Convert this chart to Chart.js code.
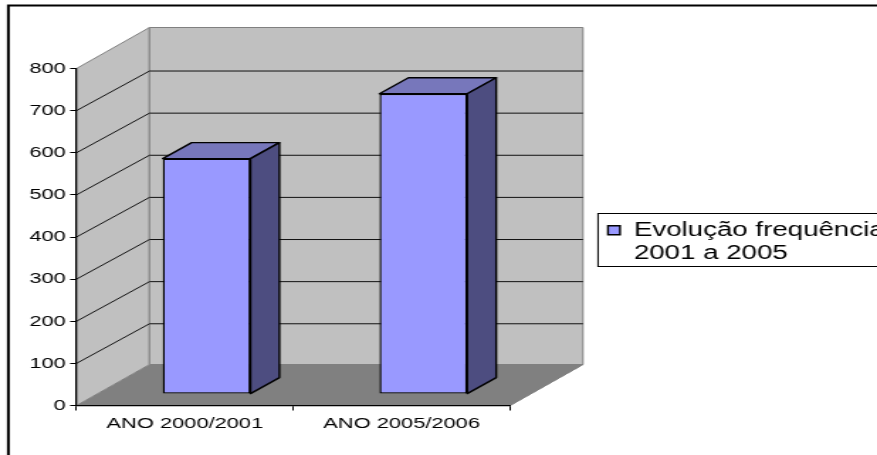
<!DOCTYPE html>
<html>
<head>
<meta charset="utf-8">
<script src="https://cdn.jsdelivr.net/npm/chart.js@4"></script>
<style>
  html,body{margin:0;padding:0;background:#fff;overflow:hidden;width:877px;height:455px}
  /* the original is stretched sideways, so the whole canvas is too */
  #wrap{width:618px;height:455px;transform-origin:0 0;transform:scaleX(1.4191)}
</style>
</head>
<body>
<div id="wrap"><canvas id="c" width="618" height="455"></canvas></div>
<script>
const categories = ['ANO 2000/2001','ANO 2005/2006'];
const values = [559, 713];
const legendLines = ['Evolução frequência','2001 a 2005'];
const yMin = 0, yMax = 800, yStep = 100;

const FONT = 'Liberation Sans, Arial, sans-serif';
const WALL = '#c0c0c0', FLOOR = '#808080', EDGE = '#808080';
const BAR = '#9999ff', BAR_TOP = '#7777bb', BAR_SIDE = '#4d4d80';
const DEPTH = {x:51.4, y:-41};      // depth of the box
const GRID_RISE = -39.6;            // grid lines land a bit lower on the back wall
const BAR_SHIFT = {x:15.3, y:-11.4};  // bar front inside the box
const BAR_DEPTH = {x:20.4, y:-16};
const LEGEND = {x:421.4, y:213.5, h:53};

function poly(ctx, pts, fill, stroke, lw){
  ctx.beginPath();
  pts.forEach((p,i)=> i ? ctx.lineTo(p[0],p[1]) : ctx.moveTo(p[0],p[1]));
  ctx.closePath();
  if(fill){ ctx.fillStyle = fill; ctx.fill(); }
  if(stroke){ ctx.strokeStyle = stroke; ctx.lineWidth = lw||1; ctx.lineJoin='round'; ctx.stroke(); }
}

const box3d = {
  id:'box3d',
  afterLayout(chart){
    // legend goes beside the box, it takes no room from the plot
    const lg = chart.legend;
    lg.left = LEGEND.x; lg.right = LEGEND.x + lg.width;
    lg.top = LEGEND.y; lg.bottom = LEGEND.y + LEGEND.h;
  },
  beforeDraw(chart){
    const {ctx, chartArea:a, scales:{y}} = chart;
    const dx = DEPTH.x, dy = DEPTH.y;
    ctx.save();
    // frame
    ctx.strokeStyle = '#000'; ctx.lineWidth = 2;
    ctx.strokeRect(5.9, 5.5, 700, 500);
    // legend box
    ctx.lineWidth = 1; ctx.strokeStyle = '#000';
    ctx.strokeRect(LEGEND.x, LEGEND.y, 300, LEGEND.h);
    // floor, side wall, back wall
    poly(ctx, [[a.left,a.bottom],[a.right,a.bottom],[a.right+dx,a.bottom+dy],[a.left+dx,a.bottom+dy]], FLOOR);
    poly(ctx, [[a.left,a.bottom],[a.left+dx,a.bottom+dy],[a.left+dx,a.top+dy],[a.left,a.top]], WALL, EDGE, 1);
    poly(ctx, [[a.left+dx,a.top+dy],[a.right+dx,a.top+dy],[a.right+dx,a.bottom+dy],[a.left+dx,a.bottom+dy]], WALL, EDGE, 1);
    // grid
    ctx.strokeStyle = '#111'; ctx.lineWidth = 1;
    y.ticks.forEach(t=>{
      if(t.value===yMin || t.value===yMax) return;
      const py = y.getPixelForValue(t.value);
      ctx.beginPath();
      ctx.moveTo(a.left,py);
      ctx.lineTo(a.left+dx,py+GRID_RISE);
      ctx.lineTo(a.right+dx,py+GRID_RISE);
      ctx.stroke();
    });
    // front right edge of the floor
    poly(ctx, [[a.right,a.bottom],[a.right+dx,a.bottom+dy]], null, EDGE, 1);
    ctx.restore();
  },
  beforeDatasetsDraw(chart){
    const ctx = chart.ctx;
    ctx.save();
    ctx.translate(BAR_SHIFT.x, BAR_SHIFT.y);
    chart.getDatasetMeta(0).data.forEach(b=>{
      const l = b.x-b.width/2, r = b.x+b.width/2, t = b.y, bt = b.base;
      const dx = BAR_DEPTH.x, dy = BAR_DEPTH.y;
      poly(ctx, [[l,t],[r,t],[r+dx,t+dy],[l+dx,t+dy]], BAR_TOP, '#000', 1.4);
      poly(ctx, [[r,t],[r+dx,t+dy],[r+dx,bt+dy],[r,bt]], BAR_SIDE, '#000', 1.4);
    });
  },
  afterDatasetsDraw(chart){
    chart.ctx.restore();
  }
};

new Chart(document.getElementById('c').getContext('2d'),{
  type:'bar',
  data:{
    labels:categories,
    datasets:[{
      label:legendLines.join(' '),
      data:values,
      backgroundColor:BAR,
      borderColor:'#000',
      borderWidth:1.4,
      borderSkipped:false,
      barPercentage:0.405,
      categoryPercentage:1,
      clip:false
    }]
  },
  options:{
    responsive:false,
    animation:false,
    layout:{padding:{left:0,top:68.5,right:258.6,bottom:0}},
    plugins:{
      tooltip:{enabled:false},
      legend:{
        position:'chartArea',
        align:'start',
        onClick:null,
        labels:{
          boxWidth:8.5,
          boxHeight:9,
          padding:7,
          color:'#000',
          font:{family:FONT,size:19.5},
          generateLabels:()=>[{text:legendLines,fillStyle:BAR,strokeStyle:'#000',lineWidth:1.4,datasetIndex:0}]
        }
      }
    },
    scales:{
      x:{
        afterFit:s=>{ s.height = 49.5; },
        grid:{drawOnChartArea:false,drawTicks:true,tickLength:5,color:'#000',offset:true},
        border:{color:'#000',width:1.2},
        ticks:{color:'#000',font:{family:FONT,size:15.4},padding:4,maxRotation:0}
      },
      y:{
        min:yMin,max:yMax,
        afterFit:s=>{ s.width = 53.9; },
        grid:{drawOnChartArea:false,drawTicks:true,tickLength:4.5,color:'#000'},
        border:{color:'#000',width:1.2},
        ticks:{stepSize:yStep,color:'#000',font:{family:FONT,size:15.4},padding:3}
      }
    }
  },
  plugins:[box3d]
});
</script>
</body>
</html>
